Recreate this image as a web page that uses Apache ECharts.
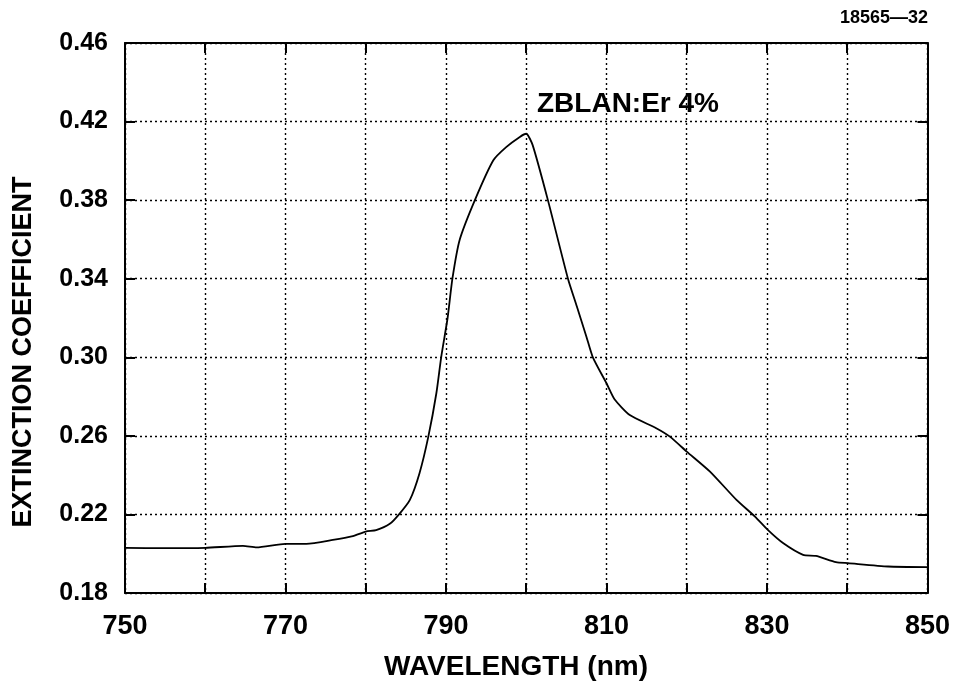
<!DOCTYPE html>
<html>
<head>
<meta charset="utf-8">
<script src="https://cdn.jsdelivr.net/npm/echarts@6/dist/echarts.min.js"></script>
<style>
html,body{margin:0;padding:0;background:#fff;}
#chart{width:953px;height:683px;}
</style>
</head>
<body>
<div id="chart"></div>
<script>
// Wavelength (nm)
var wavelengths = [750, 755, 760, 764.7, 766.4, 770, 772.6, 775.9, 778.4, 780, 781.3, 783, 784.2, 785.5, 786.7, 787.8, 788.8, 789.4, 790.2, 790.8, 791.7, 793.6, 795.9, 797.5, 799.2, 800, 800.8, 802.7, 805.2, 806.3, 807.5, 808.3, 810, 811, 812.9, 816.2, 817.9, 820, 822.9, 826.2, 828.5, 830.1, 832, 834.5, 836.1, 838.6, 840.1, 845.1, 850];
// Extinction coefficient
var extinction = [0.203, 0.2028, 0.203, 0.204, 0.2032, 0.205, 0.205, 0.207, 0.209, 0.2113, 0.212, 0.2152, 0.2203, 0.2274, 0.241, 0.2596, 0.2817, 0.300, 0.320, 0.340, 0.3597, 0.380, 0.4003, 0.407, 0.4122, 0.4138, 0.408, 0.380, 0.340, 0.326, 0.3105, 0.300, 0.2868, 0.2786, 0.2706, 0.2639, 0.2596, 0.252, 0.2418, 0.2274, 0.2189, 0.2121, 0.2054, 0.1994, 0.1989, 0.1957, 0.1952, 0.1935, 0.1932];
var xTickLabels = [750, 770, 790, 810, 830, 850];
var yTickLabels = ['0.18', '0.22', '0.26', '0.30', '0.34', '0.38', '0.42', '0.46'];
var xName = 'WAVELENGTH (nm)';
var yName = 'EXTINCTION COEFFICIENT';
var curveLabel = 'ZBLAN:Er 4%';
var figureId = '18565\u201432';

var points = wavelengths.map(function (w, i) { return [w, extinction[i]]; });
var FONT = '"Liberation Sans", Arial, sans-serif';

var chart = echarts.init(document.getElementById('chart'), null, {renderer: 'canvas'});

var gridLine = {show: true, lineStyle: {color: '#000', width: 1.4, type: [2, 3]}};
var frameLine = {show: true, onZero: false, lineStyle: {color: '#000', width: 2}};
var tick = {show: true, inside: true, length: 10, lineStyle: {color: '#000', width: 2}};

chart.setOption({
  animation: false,
  backgroundColor: '#fff',
  grid: {left: 125, right: 25, top: 43, bottom: 90, containLabel: false},
  xAxis: [{
    type: 'value', position: 'bottom', min: 750, max: 850, interval: 10,
    axisLine: frameLine, axisTick: tick, splitLine: gridLine,
    axisLabel: {
      show: true, margin: 20, color: '#000', fontFamily: FONT, fontWeight: 'bold', fontSize: 27,
      formatter: function (v) { return xTickLabels.indexOf(Math.round(v)) >= 0 ? String(Math.round(v)) : ''; }
    }
  }, {
    type: 'value', position: 'top', min: 750, max: 850, interval: 10,
    axisLine: frameLine, axisTick: tick, splitLine: {show: false}, axisLabel: {show: false}
  }],
  yAxis: [{
    type: 'value', position: 'left', min: 0.18, max: 0.46, interval: 0.04,
    axisLine: frameLine, axisTick: tick, splitLine: gridLine,
    axisLabel: {
      show: true, margin: 17, color: '#000', fontFamily: FONT, fontWeight: 'bold', fontSize: 25,
      formatter: function (v) { var s = v.toFixed(2); return yTickLabels.indexOf(s) >= 0 ? s : ''; }
    }
  }, {
    type: 'value', position: 'right', min: 0.18, max: 0.46, interval: 0.04,
    axisLine: frameLine, axisTick: tick, splitLine: {show: false}, axisLabel: {show: false}
  }],
  series: [{
    type: 'line', xAxisIndex: 0, yAxisIndex: 0,
    data: points, showSymbol: false, smooth: 0.2,
    lineStyle: {color: '#000', width: 1.8}
  }],
  graphic: [{
    type: 'text', x: 24, y: 352, rotation: Math.PI / 2,
    style: {text: yName, fill: '#000', font: 'bold 27px ' + FONT, textAlign: 'center', textVerticalAlign: 'middle'}
  }, {
    type: 'text', x: 516, y: 667,
    style: {text: xName, fill: '#000', font: 'bold 28px ' + FONT, textAlign: 'center', textVerticalAlign: 'middle'}
  }, {
    type: 'text', x: 537, y: 104,
    style: {text: curveLabel, fill: '#000', font: 'bold 28px ' + FONT, textAlign: 'left', textVerticalAlign: 'middle'}
  }, {
    type: 'text', x: 928, y: 18,
    style: {text: figureId, fill: '#000', font: 'bold 18px ' + FONT, textAlign: 'right', textVerticalAlign: 'middle'}
  }]
});
</script>
</body>
</html>
